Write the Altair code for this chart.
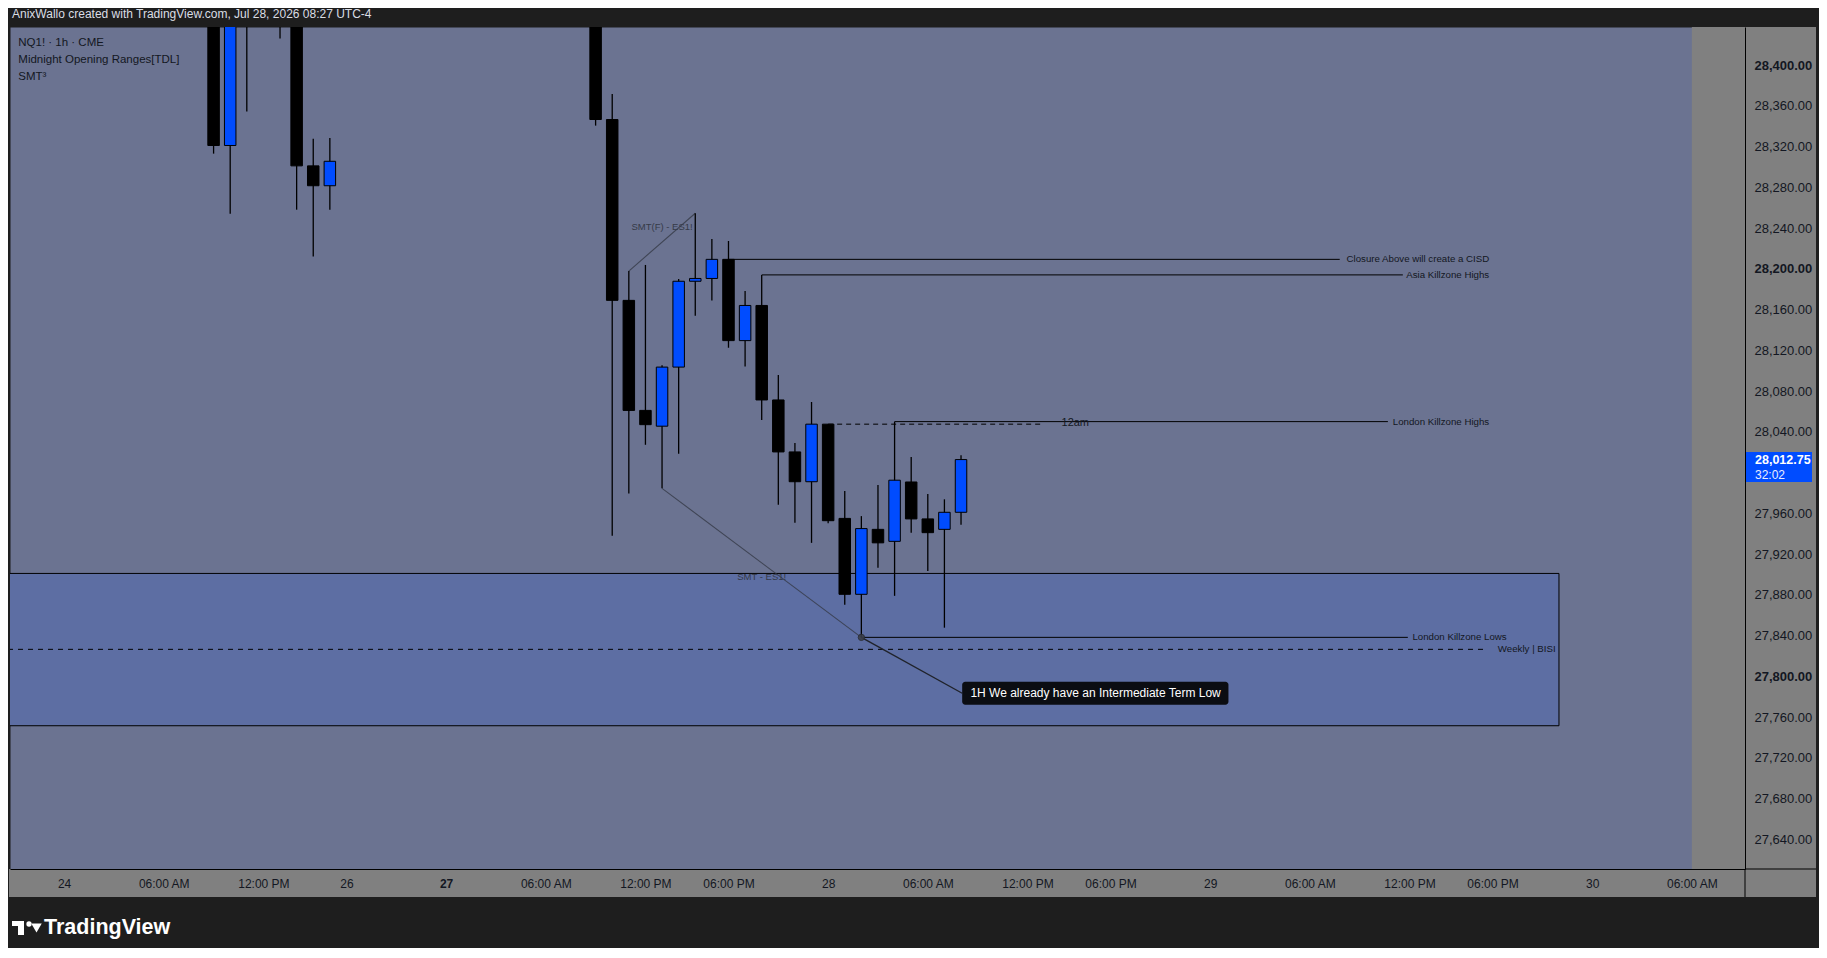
import altair as alt
import pandas as pd

# ---------------- data ----------------
# bar index: 0 = Fri Jul 24 00:00, 1h bars, weekend & daily breaks removed
bar_idx = [9, 10, 11, 13, 14, 15, 16, 32, 33, 34, 35, 36, 37, 38, 39, 40, 41, 42,
           43, 44, 45, 46, 47, 48, 49, 50, 51, 52, 53, 54]
o_vals = [28470, 28321, 28480, 28480, 28445, 28301, 28281.5, 28440, 28346.5, 28169,
          28061, 28045.5, 28103.5, 28187.75, 28190.5, 28209.25, 28129.5, 28164,
          28071.25, 28020.25, 27991, 28047.5, 27955, 27880.5, 27944.25, 27932.5,
          27990.75, 27954.5, 27944.25, 27961]
h_vals = [28480, 28470, 28500, 28490, 28460, 28327.5, 28328.25, 28450, 28371.5,
          28197.75, 28203.75, 28105.25, 28190, 28254.5, 28229.25, 28227.25, 28178.25,
          28194, 28095.75, 28029, 28069.25, 28047.75, 27982, 27957.25, 27987.75,
          28050, 28015.25, 27979, 27973.75, 28017]
l_vals = [28313, 28254, 28354.25, 28426, 28258, 28212, 28258, 28340.5, 27938,
          27979.5, 28027.25, 27984.5, 28018.5, 28154, 28168.75, 28122.5, 28104,
          28051.5, 27968.5, 27950.75, 27931, 27950.25, 27870.25, 27838.25, 27906.5,
          27879, 27941, 27903.5, 27847.75, 27948.75]
c_vals = [28321, 28460, 28445, 28445, 28301, 28281.5, 28305.5, 28346.5, 28169,
          28061, 28047, 28103.5, 28187.75, 28190.5, 28209.25, 28129.5, 28164,
          28071.25, 28020.25, 27991, 28047.5, 27952.75, 27880.5, 27945, 27931,
          27992.5, 27954.5, 27941, 27961, 28012.75]

tick_idx = [0, 6, 12, 17, 23, 29, 35, 40, 46, 52, 58, 63, 69, 75, 81, 86, 92, 98]
tick_lbl = ["24", "06:00 AM", "12:00 PM", "26", "27", "06:00 AM", "12:00 PM",
            "06:00 PM", "28", "06:00 AM", "12:00 PM", "06:00 PM", "29", "06:00 AM",
            "12:00 PM", "06:00 PM", "30", "06:00 AM"]
price_ticks = [27640, 27680, 27720, 27760, 27800, 27840, 27880, 27920, 27960,
               28040, 28080, 28120, 28160, 28200, 28240, 28280, 28320, 28360, 28400]

# horizontal annotation lines
hl_label = ["Closure Above will create a CISD", "Asia Killzone Highs",
            "London Killzone Highs", "London Killzone Lows"]
hl_price = [28209.25, 28194, 28050, 27838.25]
hl_start = [40, 42, 50, 48]
hl_end = [76.8, 80.6, 79.7, 80.9]
hl_text = [85.8, 85.8, 85.8, 86.85]

weekly_price = 27826.5
weekly_end = 85.7
weekly_text = 89.8
midnight_price = 28047.5
midnight_span = [46, 59]
midnight_text = 60.05

zone_x = [-10, 90]
zone_p = [27751.5, 27901]

smt_label = ["SMT(F) - ES1!", "SMT - ES1!"]
smt_x0 = [34, 36]
smt_p0 = [28197.75, 27984.5]
smt_x1 = [38, 48]
smt_p1 = [28254.5, 27838.25]
smt_tx = [36, 42]
smt_tp = [28241.3, 27897.2]

callout_text = "1H We already have an Intermediate Term Low"
callout_anchor = [48, 27838.25]
callout_box_x = [54.07, 70.1]
callout_box_p = [27772.2, 27794.7]
callout_txt_pos = [62.1, 27783.4]

last_price = 28012.75

# ---------------- styling ----------------
FONT = "Liberation Sans"
SLATE = "#6b7391"
ZONE = "#5d6ea3"
GRAY = "#808080"
BLUE = "#004cff"
INK = "#131722"
DARK = "#1e1e1e"

X_DOM = [-3.257, 101.2]
Y_DOM = [27610.9, 28437.3]
W, H = 1735, 842

xs = alt.Scale(domain=X_DOM, nice=False, zero=False, padding=0)
ys = alt.Scale(domain=Y_DOM, nice=False, zero=False, padding=0)

lbl_expr = "[" + ",".join("'%s'" % t for t in tick_lbl) + "][indexof([" + \
    ",".join(str(t) for t in tick_idx) + "], datum.value)]"

XAX = alt.Axis(orient="bottom", values=tick_idx, labelExpr=lbl_expr, grid=False,
               ticks=False, tickSize=0, domain=True, domainColor="#000000",
               domainWidth=1, labelColor=INK, labelFont=FONT, labelFontSize=12,
               labelPadding=14, labelBaseline="middle", labelOverlap=False,
               labelFlush=False, zindex=1, title="",
               labelFontWeight={"condition": {"test": "datum.value == 23", "value": "bold"},
                                "value": "normal"})
YAX = alt.Axis(orient="right", values=price_ticks, format=",.2f", grid=False,
               ticks=False, tickSize=0, domain=True, domainColor="#000000",
               domainWidth=1, labelColor=INK, labelFont=FONT, labelFontSize=13,
               labelPadding=9, labelAlign="left", labelBaseline="middle",
               labelOverlap=False, labelFlush=False, zindex=1, title="",
               labelFontWeight={"condition": {"test": "datum.value % 200 == 0", "value": "bold"},
                                "value": "normal"})


def X(f):
    return alt.X(f + ":Q", scale=xs, axis=XAX)


def Y(f):
    return alt.Y(f + ":Q", scale=ys, axis=YAX)


def one():
    return alt.Chart(pd.DataFrame({"d": [0]}))


candles = pd.DataFrame({"idx": bar_idx, "o": o_vals, "h": h_vals, "l": l_vals, "c": c_vals})

# right gray region
right_gray = alt.Chart(pd.DataFrame({"a": [98], "b": [X_DOM[1]]})).mark_rect(
    color=GRAY).encode(x=X("a"), x2="b", y=alt.value(0), y2=alt.value(H))

zone = alt.Chart(pd.DataFrame({"x0": [zone_x[0]], "x1": [zone_x[1]],
                               "p0": [zone_p[0]], "p1": [zone_p[1]]})).mark_rect(
    fill=ZONE, stroke="#000000", strokeWidth=1, clip=True).encode(
    x=X("x0"), x2="x1", y=Y("p0"), y2="p1")

weekly = alt.Chart(pd.DataFrame({"x0": [zone_x[0]], "x1": [weekly_end], "p": [weekly_price]})).mark_rule(
    color="#000000", strokeWidth=1, strokeDash=[5, 5], clip=True).encode(
    x=X("x0"), x2="x1", y=Y("p"))

hl_df = pd.DataFrame({"label": hl_label, "p": hl_price, "x0": hl_start, "x1": hl_end, "tx": hl_text})
hlines = alt.Chart(hl_df).mark_rule(color="#000000", strokeWidth=1).encode(
    x=X("x0"), x2="x1", y=Y("p"))

midnight = alt.Chart(pd.DataFrame({"x0": [midnight_span[0]], "x1": [midnight_span[1]],
                                   "p": [midnight_price]})).mark_rule(
    color="#000000", strokeWidth=1, strokeDash=[5, 4]).encode(x=X("x0"), x2="x1", y=Y("p"))

smt_df = pd.DataFrame({"label": smt_label, "x0": smt_x0, "p0": smt_p0, "x1": smt_x1,
                       "p1": smt_p1, "tx": smt_tx, "tp": smt_tp})
smt_lines = alt.Chart(smt_df).mark_rule(color="#343946", strokeWidth=1.1, opacity=0.8).encode(
    x=X("x0"), y=Y("p0"), x2="x1", y2="p1")

callout_line = alt.Chart(pd.DataFrame({"x0": [callout_anchor[0]], "p0": [callout_anchor[1]],
                                       "x1": [callout_box_x[0]], "p1": [callout_txt_pos[1]]})).mark_rule(
    color="#20232b", strokeWidth=1.4).encode(x=X("x0"), y=Y("p0"), x2="x1", y2="p1")

wicks = alt.Chart(candles).mark_rule(color="#000000", strokeWidth=1.3, clip=True).encode(
    x=X("idx"), y=Y("l"), y2="h")

bodies = alt.Chart(candles).mark_bar(size=11.5, stroke="#000000", strokeWidth=1, clip=True).encode(
    x=X("idx"), y=Y("o"), y2="c",
    fill=alt.condition("datum.c > datum.o", alt.value(BLUE), alt.value("#000000")))

marker = alt.Chart(pd.DataFrame({"x": [callout_anchor[0]], "p": [callout_anchor[1]]})).mark_point(
    shape="circle", filled=True, size=40, color="#3a3e49", opacity=0.9,
    stroke="#2a2d35", strokeWidth=1).encode(x=X("x"), y=Y("p"))

hl_text_layer = alt.Chart(hl_df).mark_text(align="right", baseline="middle", font=FONT,
                                           fontSize=9.7, color=INK).encode(
    x=X("tx"), y=Y("p"), text="label:N")

weekly_txt = alt.Chart(pd.DataFrame({"x": [weekly_text], "p": [weekly_price],
                                     "t": ["Weekly | BISI"]})).mark_text(
    align="right", baseline="middle", font=FONT, fontSize=9.7, color=INK).encode(
    x=X("x"), y=Y("p"), text="t:N")

midnight_txt = alt.Chart(pd.DataFrame({"x": [midnight_text], "p": [midnight_price],
                                       "t": ["12am"]})).mark_text(
    align="left", baseline="middle", font=FONT, fontSize=11, color=INK, dy=-1).encode(
    x=X("x"), y=Y("p"), text="t:N")

smt_txt = alt.Chart(smt_df).mark_text(align="center", baseline="middle", font=FONT,
                                      fontSize=9.5, color="#353a48", opacity=1).encode(
    x=X("tx"), y=Y("tp"), text="label:N")

callout_box = alt.Chart(pd.DataFrame({"x0": [callout_box_x[0]], "x1": [callout_box_x[1]],
                                      "p0": [callout_box_p[0]], "p1": [callout_box_p[1]]})).mark_rect(
    fill="#0b0d12", cornerRadius=3).encode(x=X("x0"), x2="x1", y=Y("p0"), y2="p1")

callout_txt = alt.Chart(pd.DataFrame({"x": [callout_txt_pos[0]], "p": [callout_txt_pos[1]],
                                      "t": [callout_text]})).mark_text(
    align="center", baseline="middle", font=FONT, fontSize=12, color="#ffffff").encode(
    x=X("x"), y=Y("p"), text="t:N")

# ---- chrome: axis backgrounds, header, legend, last-price tag, logo ----
axis_bg_right = one().mark_rect(color=GRAY).encode(
    x=alt.value(W), x2=alt.value(W + 71), y=alt.value(0), y2=alt.value(H + 28))
axis_bg_bottom = one().mark_rect(color=GRAY).encode(
    x=alt.value(-1), x2=alt.value(W), y=alt.value(H), y2=alt.value(H + 28))
sep_v = one().mark_rule(color="#000000", strokeWidth=1).encode(
    x=alt.value(W), y=alt.value(H), y2=alt.value(H + 28))
sep_h = one().mark_rule(color="#000000", strokeWidth=1).encode(
    x=alt.value(W), x2=alt.value(W + 71), y=alt.value(H))

header = one().mark_text(text="AnixWallo created with TradingView.com, Jul 28, 2026 08:27 UTC-4",
                         align="left", baseline="middle", font=FONT, fontSize=12,
                         color="#dadde4").encode(x=alt.value(2), y=alt.value(-13))

legend_lines = ["NQ1! · 1h · CME", "Midnight Opening Ranges[TDL]", "SMT³"]
legend_y = [15.5, 33, 49.5]
legend = alt.layer(*[
    one().mark_text(text=t, align="left", baseline="middle", font=FONT, fontSize=11.5,
                    color=INK).encode(x=alt.value(8.3), y=alt.value(yv))
    for t, yv in zip(legend_lines, legend_y)])

price_df = pd.DataFrame({"p": [last_price]})
price_box = alt.Chart(price_df).mark_rect(color=BLUE, yOffset=-7.6, y2Offset=22.4).encode(
    x=alt.value(W), x2=alt.value(W + 67), y=Y("p"), y2="p")
price_txt = alt.Chart(price_df).mark_text(text="28,012.75", align="left", baseline="middle",
                                          font=FONT, fontSize=12.5, fontWeight="bold",
                                          color="#ffffff").encode(x=alt.value(W + 10), y=Y("p"))
timer_txt = alt.Chart(price_df).mark_text(text="32:02", align="left", baseline="middle",
                                          font=FONT, fontSize=12, color="#e8ecff",
                                          dy=15).encode(x=alt.value(W + 10), y=Y("p"))

logo_t1 = one().mark_rect(color="#ffffff").encode(
    x=alt.value(2), x2=alt.value(14), y=alt.value(894), y2=alt.value(899))
logo_t2 = one().mark_rect(color="#ffffff").encode(
    x=alt.value(8), x2=alt.value(14), y=alt.value(894), y2=alt.value(908))
logo_dot = one().mark_point(shape="circle", filled=True, size=28, color="#ffffff", opacity=1).encode(
    x=alt.value(19), y=alt.value(897))
logo_tri = one().mark_point(shape="triangle-down", filled=True, size=110, color="#ffffff",
                            opacity=1).encode(x=alt.value(26.5), y=alt.value(901))
logo_txt = one().mark_text(text="TradingView", align="left", baseline="middle", font=FONT,
                           fontSize=21.5, fontWeight="bold", color="#ffffff").encode(
    x=alt.value(34), y=alt.value(901))

chart = alt.layer(
    right_gray, zone, weekly, hlines, midnight, smt_lines, callout_line,
    wicks, bodies, marker, hl_text_layer, weekly_txt, midnight_txt, smt_txt,
    callout_box, callout_txt,
    axis_bg_right, axis_bg_bottom, sep_v, sep_h, header, legend,
    price_box, price_txt, timer_txt,
    logo_t1, logo_t2, logo_dot, logo_tri, logo_txt,
).properties(
    width=W, height=H,
    padding={"left": 2, "top": 19, "right": 74, "bottom": 79},
    autosize=alt.AutoSizeParams(type="none"),
    background=DARK,
).configure_view(fill=SLATE, stroke="transparent")

chart.save("out.html", embed_options={"renderer": "svg", "actions": False})
